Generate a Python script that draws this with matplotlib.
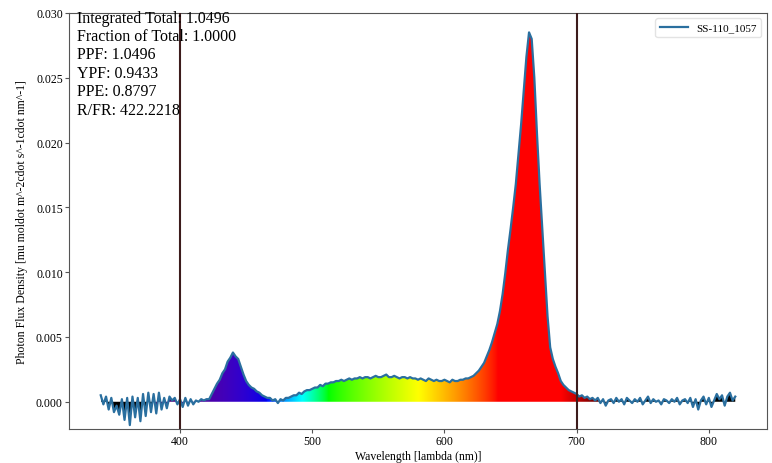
import numpy as np
import matplotlib
matplotlib.use("Agg")
import matplotlib.pyplot as plt

plt.rcParams['font.family'] = ['Liberation Serif', 'DejaVu Serif']

series_label = "SS-110_1057"
wavelength_start = 340
wavelength_step = 2
spd_uv = [0.0005, -0.0002, 0.0004, -0.0006, 0.0003, -0.0008, -0.0003, -0.0010, 0.0002, -0.0014,
          0.0003, -0.0018, 0.0004, -0.0012, 0.0003, -0.0015, 0.0006, -0.0011, 0.0007, -0.0008,
          0.0006, -0.0009, 0.0007, -0.0006, 0.0003, -0.0005, 0.0004, 0.0001, 0.0003, -0.0002,
          0.0002, -0.0004, 0.0003, -0.0003, 0.0002, -0.0002, 0.0001, 0.0000, 0.0002, 0.0001]
spd_blue = [0.0002, 0.0002, 0.0006, 0.0010, 0.0014, 0.0017, 0.0022, 0.0025, 0.0031, 0.0034,
            0.0038, 0.0035, 0.0033, 0.0027, 0.0021, 0.0016, 0.0013, 0.0011, 0.0010, 0.0008,
            0.0007, 0.0005, 0.0004, 0.0003, 0.0003, 0.0001, 0.0002, -0.0001, 0.0002, 0.0001]
spd_mid = [0.0003, 0.0003, 0.0004, 0.0005, 0.0005, 0.0007, 0.0006, 0.0008, 0.0009, 0.0009,
           0.0010, 0.0011, 0.0011, 0.0013, 0.0012, 0.0014, 0.0014, 0.0015, 0.0015, 0.0016,
           0.0016, 0.0017, 0.0016, 0.0017, 0.0018, 0.0017, 0.0018, 0.0018, 0.0019, 0.0018,
           0.0019, 0.0019, 0.0018, 0.0019, 0.0020, 0.0019, 0.0019, 0.0020, 0.0021, 0.0019,
           0.0019, 0.0020, 0.0019, 0.0018, 0.0019, 0.0019, 0.0018, 0.0019, 0.0018, 0.0018,
           0.0017, 0.0018, 0.0017, 0.0016, 0.0018, 0.0017, 0.0016, 0.0017, 0.0016, 0.0016,
           0.0017, 0.0016, 0.0015, 0.0017, 0.0016, 0.0016, 0.0017, 0.0017, 0.0018, 0.0018]
spd_red = [0.0019, 0.0020, 0.0022, 0.0024, 0.0027, 0.0030, 0.0035, 0.0040, 0.0046, 0.0053,
           0.0060, 0.0070, 0.0083, 0.0099, 0.0117, 0.0133, 0.0150, 0.0168, 0.0191, 0.0214,
           0.0240, 0.0266, 0.0285, 0.0280, 0.0250, 0.0207, 0.0168, 0.0134, 0.0100, 0.0066,
           0.0042, 0.0033, 0.0027, 0.0022, 0.0016, 0.0013, 0.0011, 0.0009, 0.0008, 0.0007]
spd_fr = [0.0006, 0.0004, 0.0005, 0.0003, 0.0004, 0.0002, 0.0003, 0.0001, 0.0003, -0.0001,
          0.0002, -0.0003, 0.0001, 0.0002, -0.0001, 0.0003, 0.0000, 0.0002, -0.0002, 0.0003,
          0.0001, -0.0001, 0.0002, 0.0000, 0.0003, -0.0002, 0.0001, 0.0004, -0.0001, 0.0002,
          0.0000, 0.0001, -0.0002, 0.0002, 0.0001, -0.0001, 0.0002, 0.0000, 0.0003, -0.0002,
          0.0001, 0.0002, -0.0001, 0.0003, -0.0004, 0.0002, -0.0006, 0.0001, 0.0004, -0.0002,
          0.0003, -0.0004, 0.0001, 0.0006, 0.0002, 0.0005, -0.0003, 0.0004, 0.0007, 0.0001, 0.0004]

spd = np.array(spd_uv + spd_blue + spd_mid + spd_red + spd_fr)
wl = wavelength_start + wavelength_step * np.arange(len(spd))

par_bounds = [400, 700]
stats_labels = ["Integrated Total", "Fraction of Total", "PPF", "YPF", "PPE", "R/FR"]
stats_values = ["1.0496", "1.0000", "1.0496", "0.9433", "0.8797", "422.2218"]


def wavelength_to_rgb(w, gamma=0.8):
    if w < 380 or w > 780:
        return (0.0, 0.0, 0.0)
    if w < 465:
        att = 0.3 + 0.6 * (w - 380) / 85
        r, g, b = (0.45 * (465 - w) / 85) * att * 1.6, 0.0, att
    elif w < 492:
        r, g, b = 0.0, (w - 465) / 27, 1.0
    elif w < 512:
        r, g, b = 0.0, 1.0, -(w - 512) / 20
    elif w < 580:
        r, g, b = (w - 512) / 68, 1.0, 0.0
    elif w < 640:
        r, g, b = 1.0, -(w - 640) / 60, 0.0
    else:
        att = 1.0
        if w > 688:
            att = max(0.0, 1.0 - 0.75 * (w - 688) / 30)
        r, g, b = att, 0.0, 0.0
    return (max(r, 0) ** gamma, max(g, 0) ** gamma, max(b, 0) ** gamma)


fig = plt.figure(figsize=(7.72, 4.64), dpi=100)
ax = fig.add_axes([0.0894, 0.0733, 0.9041, 0.8967])

xlim = (316, 844)
ylim = (-0.0021, 0.030)

grid_wl = np.linspace(wl[0], wl[-1], 1200)
img = np.array([wavelength_to_rgb(w) for w in grid_wl])[np.newaxis, :, :]
im = ax.imshow(img, extent=(wl[0], wl[-1], ylim[0], ylim[1]), aspect='auto',
               origin='lower', zorder=1, interpolation='bilinear')
poly = ax.fill_between(wl, spd, 0, color='none', lw=0)
im.set_clip_path(poly.get_paths()[0], transform=ax.transData)

ax.plot(wl, spd, color='#2a6f9f', lw=1.6, label=series_label, zorder=3)
for b in par_bounds:
    ax.axvline(b, color='#3d1c1c', lw=1.5, zorder=4)

ax.set_xlim(*xlim)
ax.set_ylim(*ylim)
ax.set_xticks([400, 500, 600, 700, 800])
ax.set_yticks(np.arange(0, 0.0301, 0.005))
ax.yaxis.set_major_formatter(matplotlib.ticker.FormatStrFormatter('%.3f'))
ax.tick_params(labelsize=8.5, color='#555555', length=3, pad=1.5)
for s in ax.spines.values():
    s.set_color('#555555')

ax.set_xlabel("Wavelength [lambda (nm)]", fontsize=8.5, labelpad=2)
ax.set_ylabel("Photon Flux Density [mu moldot m^-2cdot s^-1cdot nm^-1]", fontsize=8.5,
              labelpad=6)

text = "\n".join(f"{l}: {v}" for l, v in zip(stats_labels, stats_values))
ax.text(0.012, 1.008, text, transform=ax.transAxes, va='top', ha='left',
        fontsize=11.5, linespacing=1.2, zorder=5)

ax.legend(loc='upper right', fontsize=8, framealpha=0.8, edgecolor='#dddddd',
          handlelength=2.5)

fig.savefig("out.png", dpi=100)
